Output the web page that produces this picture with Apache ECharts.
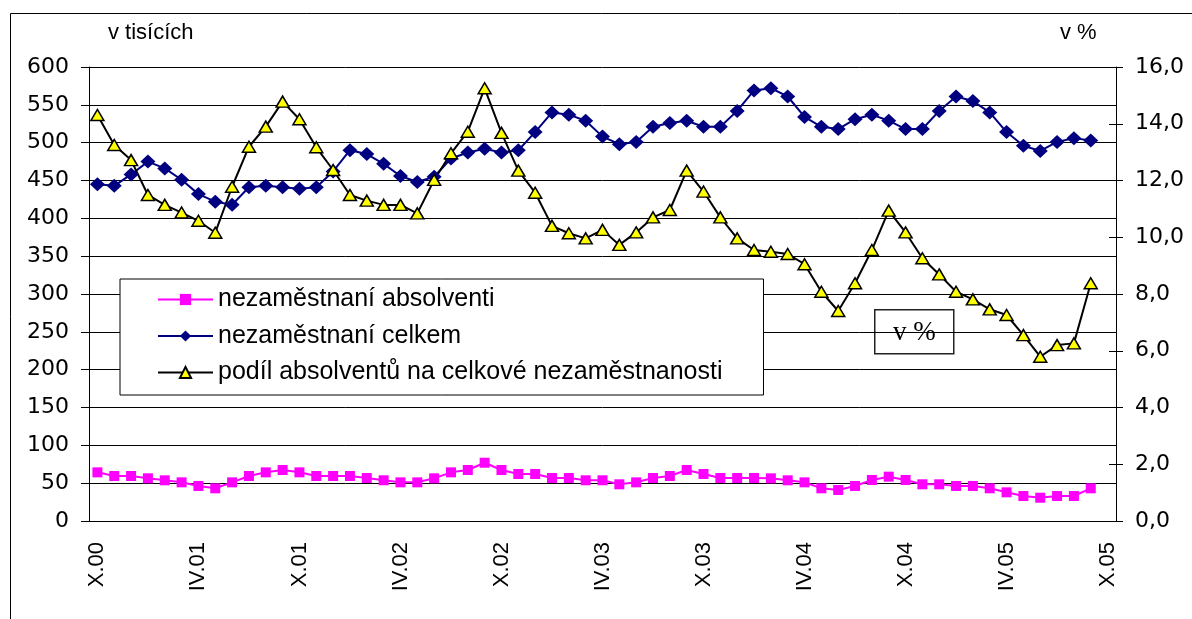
<!DOCTYPE html>
<html>
<head>
<meta charset="utf-8">
<script src="https://cdn.jsdelivr.net/npm/echarts@6/dist/echarts.min.js"></script>
<style>
  html,body{margin:0;padding:0;background:#fff;}
  #chart{width:1192px;height:619px;}
</style>
</head>
<body>
<div id="chart"></div>
<script>
// mesice X.00 .. X.05 (posledni kategorie bez dat)
var romanMonths = ['I','II','III','IV','V','VI','VII','VIII','IX','X','XI','XII']
var months = []
for (var y = 0; y <= 5; y++) {
  for (var m = 0; m < 12; m++) {
    if (y == 0 && m < 9) continue
    if (y == 5 && m > 9) continue
    months.push(romanMonths[m] + '.0' + y)
  }
}

// v tisicich
var absolventi = [64.3, 59.5, 59.5, 56.4, 53.8, 51.1, 46.3, 43.2, 51.1, 59.5,
  64.3, 67.4, 64.3, 59.5, 59.5, 59.5, 56.8, 53.8, 51.1, 51.1,
  56.4, 64.3, 67.4, 77, 67.4, 62.1, 62.1, 56.8, 56.8, 53.8,
  53.8, 48.5, 51.1, 56.8, 59.5, 67.4, 62.1, 56.8, 56.8, 56.8,
  56.4, 53.8, 51.1, 43.2, 41, 46.3, 54.2, 58.6, 54.2, 48.5,
  48.5, 46.3, 46.3, 43.2, 37.9, 33, 30.8, 33, 33, 43.2]
var celkem = [445, 443, 458, 475, 466, 451, 432, 422, 418, 441,
  443, 441, 439, 441, 462, 490, 485, 472, 456, 448,
  455, 479, 487, 492, 487, 490, 514, 540, 537, 529,
  508, 498, 501, 521, 526, 529, 521, 521, 542, 569,
  572, 561, 534, 521, 518, 531, 537, 529, 518, 518,
  542, 561, 555, 540, 514, 496, 489, 501, 506, 503]
// v %
var podil = [14.31, 13.25, 12.72, 11.49, 11.14, 10.87, 10.58, 10.16, 11.78, 13.19,
  13.9, 14.78, 14.16, 13.17, 12.37, 11.49, 11.29, 11.14, 11.14, 10.84,
  12.02, 12.96, 13.72, 15.25, 13.68, 12.35, 11.57, 10.40, 10.14, 9.96,
  10.26, 9.73, 10.17, 10.70, 10.96, 12.35, 11.61, 10.70, 9.96, 9.55,
  9.49, 9.41, 9.05, 8.08, 7.40, 8.38, 9.55, 10.94, 10.17, 9.26,
  8.69, 8.08, 7.81, 7.46, 7.26, 6.55, 5.79, 6.20, 6.26, 8.38]

var names = ['nezaměstnaní absolventi', 'nezaměstnaní celkem', 'podíl absolventů na celkové nezaměstnanosti']
var font = 'Liberation Sans, Arial, sans-serif'
var wideFont = 'DejaVu Sans, Verdana, sans-serif'

var chart = echarts.init(document.getElementById('chart'))
var option = {
  animation: false,
  backgroundColor: '#fff',
  textStyle: { fontFamily: font, color: '#000' },
  grid: { left: 89, right: 76, top: 67, bottom: 98, containLabel: false },
  legend: {
    data: names,
    orient: 'vertical',
    left: 120,
    top: 279,
    padding: [8, 41, 10, 37],
    itemWidth: 55,
    itemHeight: 14,
    itemGap: 11.5,
    backgroundColor: '#fff',
    borderColor: '#000',
    borderWidth: 1,
    borderRadius: 0,
    textStyle: { fontSize: 25, color: '#000', fontFamily: font }
  },
  xAxis: [{
    type: 'category',
    data: months,
    boundaryGap: true,
    axisLine: { lineStyle: { color: '#000', width: 1 } },
    axisTick: { interval: 0, length: 7, lineStyle: { color: '#000' } },
    axisLabel: { interval: 5, rotate: 90, fontSize: 22, color: '#000', margin: 21, fontFamily: font },
    splitLine: { show: false }
  }, {
    type: 'category',
    data: months,
    position: 'bottom',
    boundaryGap: true,
    axisLine: { show: false },
    axisTick: { interval: 0, inside: true, length: 7, lineStyle: { color: '#000' } },
    axisLabel: { show: false },
    splitLine: { show: false }
  }],
  yAxis: [{
    type: 'value',
    position: 'left',
    min: 0, max: 600, interval: 50,
    axisLine: { show: true, lineStyle: { color: '#000' } },
    axisTick: { show: true, length: 8, lineStyle: { color: '#000' } },
    axisLabel: { fontSize: 22, color: '#000', margin: 20, fontFamily: wideFont },
    splitLine: { show: true, lineStyle: { color: '#000', width: 1 } }
  }, {
    type: 'value',
    position: 'right',
    min: 0, max: 16, interval: 2,
    axisLine: { show: true, lineStyle: { color: '#000' } },
    axisTick: { show: true, length: 7, lineStyle: { color: '#000' } },
    axisLabel: {
      fontSize: 22, color: '#000', margin: 19, fontFamily: wideFont,
      formatter: function (v) { return v.toFixed(1).replace('.', ',') }
    },
    splitLine: { show: false }
  }, {
    type: 'value',
    position: 'left',
    min: 0, max: 600, interval: 50,
    axisLine: { show: false },
    axisTick: { show: true, inside: true, length: 8, lineStyle: { color: '#000' } },
    axisLabel: { show: false },
    splitLine: { show: false }
  }, {
    type: 'value',
    position: 'right',
    min: 0, max: 16, interval: 2,
    axisLine: { show: false },
    axisTick: { show: true, inside: true, length: 7, lineStyle: { color: '#000' } },
    axisLabel: { show: false },
    splitLine: { show: false }
  }],
  series: [{
    name: names[0],
    type: 'line',
    yAxisIndex: 0,
    data: absolventi,
    symbol: 'rect',
    symbolSize: 10,
    showAllSymbol: true,
    color: '#ff00ff',
    itemStyle: { color: '#ff00ff' },
    lineStyle: { color: '#ff00ff', width: 2 }
  }, {
    name: names[1],
    type: 'line',
    yAxisIndex: 0,
    data: celkem,
    symbol: 'diamond',
    symbolSize: [15, 14],
    showAllSymbol: true,
    color: '#000080',
    itemStyle: { color: '#000080' },
    lineStyle: { color: '#000080', width: 2 }
  }, {
    name: names[2],
    type: 'line',
    yAxisIndex: 1,
    data: podil,
    symbol: 'triangle',
    symbolSize: [13, 11],
    showAllSymbol: true,
    color: '#000',
    itemStyle: { color: '#ffff00', borderColor: '#000', borderWidth: 1.5 },
    lineStyle: { color: '#000', width: 2 }
  }],
  graphic: [{
    type: 'rect',
    shape: { x: 10.5, y: 13.5, width: 1220, height: 700 },
    style: { fill: null, stroke: '#000', lineWidth: 1 },
    silent: true, z: 0
  }, {
    type: 'text',
    left: 108, top: 22,
    style: { text: 'v tisících', font: '22px ' + font, fill: '#000' }
  }, {
    type: 'text',
    left: 1060, top: 22,
    style: { text: 'v %', font: '22px ' + font, fill: '#000' }
  }, {
    type: 'group',
    left: 874, top: 309,
    z: 100,
    children: [{
      type: 'rect',
      shape: { x: 0, y: 0, width: 79, height: 44 },
      style: { fill: '#fff', stroke: '#222', lineWidth: 1.5 }
    }, {
      type: 'text',
      x: 39.5, y: 23,
      style: { text: 'v %', font: '27px Liberation Serif, Times New Roman, serif', fill: '#000', align: 'center', verticalAlign: 'middle' }
    }]
  }]
}
chart.setOption(option)
</script>
</body>
</html>
